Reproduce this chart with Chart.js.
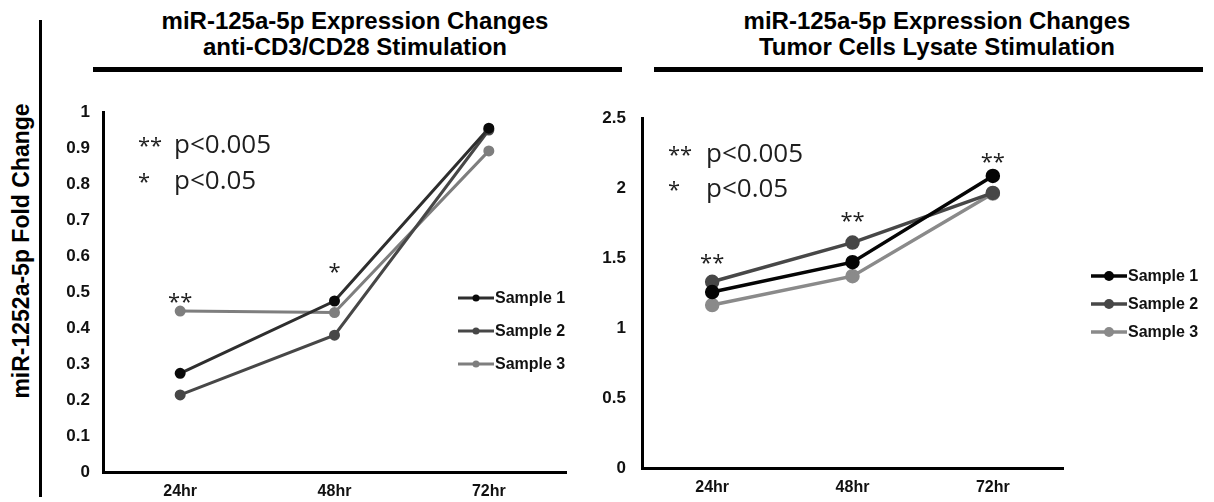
<!DOCTYPE html>
<html>
<head>
<meta charset="utf-8">
<script src="https://cdn.jsdelivr.net/npm/chart.js@4.4.1/dist/chart.umd.min.js"></script>
<style>
  body { margin: 0; background: #fff; width: 1214px; height: 502px; position: relative; overflow: hidden;
         font-family: "Liberation Sans", Arial, sans-serif; }
  .title { position: absolute; top: 8px; width: 520px; text-align: center; font-weight: bold;
           font-size: 24px; line-height: 26px; color: #000; white-space: nowrap; }
  .rule { position: absolute; top: 67px; height: 5px; background: #000; }
  #divider { position: absolute; left: 39px; top: 20px; width: 3px; height: 477px; background: #000; }
  #ylab { position: absolute; left: 21px; top: 251px; transform: translate(-50%, -50%) rotate(-90deg);
          font-weight: bold; font-size: 23px; white-space: nowrap; color: #000; }
  canvas { position: absolute; top: 80px; }
  #cd3 { left: 45px; }
  #lysate { left: 600px; }
</style>
</head>
<body>
<div id="divider"></div>
<div id="ylab">miR-1252a-5p Fold Change</div>
<div class="title" style="left:95px">miR-125a-5p Expression Changes<br>anti-CD3/CD28 Stimulation</div>
<div class="rule" style="left:93px; width:529px"></div>
<div class="title" style="left:677px">miR-125a-5p Expression Changes<br>Tumor Cells Lysate Stimulation</div>
<div class="rule" style="left:654px; width:549px"></div>
<canvas id="cd3" width="555" height="422"></canvas>
<canvas id="lysate" width="614" height="422"></canvas>
<script>
const timepoints = ['24hr', '48hr', '72hr'];
const sampleNames = ['Sample 1', 'Sample 2', 'Sample 3'];
const pKey = [['**', 'p<0.005'], ['*', 'p<0.05']];

// anti-CD3/CD28 stimulation
const cd3Sample1 = [0.274, 0.475, 0.955];
const cd3Sample2 = [0.214, 0.38, 0.95];
const cd3Sample3 = [0.447, 0.443, 0.892];
const cd3Ticks = ['0', '0.1', '0.2', '0.3', '0.4', '0.5', '0.6', '0.7', '0.8', '0.9', '1'];
const cd3Stars = ['**', '*', ''];
const cd3StarLevel = [0.48, 0.566, null];

// tumor cells lysate stimulation
const lysSample1 = [1.257, 1.47, 2.086];
const lysSample2 = [1.33, 1.61, 1.965];
const lysSample3 = [1.164, 1.37, 1.96];
const lysTicks = ['0', '0.5', '1', '1.5', '2', '2.5'];
const lysStars = ['**', '**', '**'];
const lysStarLevel = [1.49, 1.79, 2.21];

const tickFont = { family: '"Liberation Sans", Arial, sans-serif', size: 17, weight: 'bold' };

// p-value key, significance stars and the legend, drawn on the canvas
const notes = {
  id: 'notes',
  afterDraw(chart, args, o) {
    const { ctx, chartArea: a, scales: { x, y } } = chart;
    ctx.save();
    ctx.fillStyle = '#1e1e1e';
    ctx.textBaseline = 'middle';
    ctx.textAlign = 'left';
    pKey.forEach((row, i) => {
      const cy = a.top + o.keyTop + i * o.keyGap;
      ctx.font = '22px "Open Sans"';
      ctx.fillText(row[0], a.left + o.keyX, cy + 1);
      ctx.font = '26px "Open Sans"';
      ctx.fillText(row[1], a.left + o.keyTextX, cy);
    });
    ctx.font = '22px "Open Sans"';
    ctx.textAlign = 'center';
    o.stars.forEach((s, i) => {
      if (!s) return;
      ctx.fillText(s, x.getPixelForValue(i), y.getPixelForValue(o.starLevel[i]) + 4);
    });
    // legend
    ctx.font = 'bold 16px "Liberation Sans"';
    ctx.textAlign = 'left';
    chart.data.datasets.forEach((ds, i) => {
      const lx = a.left + o.legX;
      const cy = a.top + o.legTop + i * o.legGap;
      ctx.strokeStyle = ds.borderColor;
      ctx.lineWidth = ds.borderWidth;
      ctx.beginPath();
      ctx.moveTo(lx, cy);
      ctx.lineTo(lx + 36, cy);
      ctx.stroke();
      ctx.fillStyle = ds.pointBackgroundColor;
      ctx.beginPath();
      ctx.arc(lx + 18, cy, ds.pointRadius - 0.5, 0, Math.PI * 2);
      ctx.fill();
      ctx.fillStyle = '#111';
      ctx.fillText(ds.label, lx + 37, cy + 1);
    });
    ctx.restore();
  }
};

function makeChart(id, series, colors, pointColors, lw, pr, ticks, max, step, yWidth, xHeight, pad, notesOpts, tickPad) {
  new Chart(document.getElementById(id), {
    type: 'line',
    data: {
      labels: timepoints,
      datasets: series.map((vals, i) => ({
        label: sampleNames[i],
        data: vals,
        borderColor: colors[i],
        borderWidth: lw,
        pointBackgroundColor: pointColors[i],
        pointBorderColor: pointColors[i],
        pointRadius: pr,
        tension: 0
      }))
    },
    options: {
      responsive: false,
      animation: false,
      layout: { padding: pad },
      scales: {
        x: {
          offset: true,
          grid: { display: false, drawTicks: false },
          border: { display: true, color: '#000', width: 3 },
          ticks: { font: { ...tickFont, size: 16 }, color: '#111', padding: 10 },
          afterFit: s => { s.height = xHeight; }
        },
        y: {
          min: 0, max: max,
          grid: { display: false, drawTicks: false },
          border: { display: true, color: '#000', width: 3 },
          ticks: { stepSize: step, font: tickFont, color: '#111', padding: tickPad,
                   callback: (v, i) => ticks[i] },
          afterFit: s => { s.width = yWidth; }
        }
      },
      plugins: { legend: { display: false }, tooltip: { enabled: false }, notes: notesOpts }
    },
    plugins: [notes]
  });
}

makeChart('cd3', [cd3Sample1, cd3Sample2, cd3Sample3],
  ['#2e2e2e', '#474747', '#7e7e7e'], ['#0a0a0a', '#474747', '#7e7e7e'], 3, 4,
  cd3Ticks, 1, 0.1, 58, 30, { top: 32, right: 34 },
  { keyX: 35, keyTextX: 71, keyTop: 34, keyGap: 36, stars: cd3Stars, starLevel: cd3StarLevel,
    legX: 355, legTop: 186, legGap: 33 }, 13);

makeChart('lysate', [lysSample1, lysSample2, lysSample3],
  ['#050505', '#474747', '#8a8a8a'], ['#050505', '#474747', '#8a8a8a'], 3.5, 5.5,
  lysTicks, 2.5, 0.5, 42, 34, { top: 38, right: 151 },
  { keyX: 26, keyTextX: 64, keyTop: 37, keyGap: 35, stars: lysStars, starLevel: lysStarLevel,
    legX: 449, legTop: 158, legGap: 28 }, 16);
</script>
</body>
</html>
